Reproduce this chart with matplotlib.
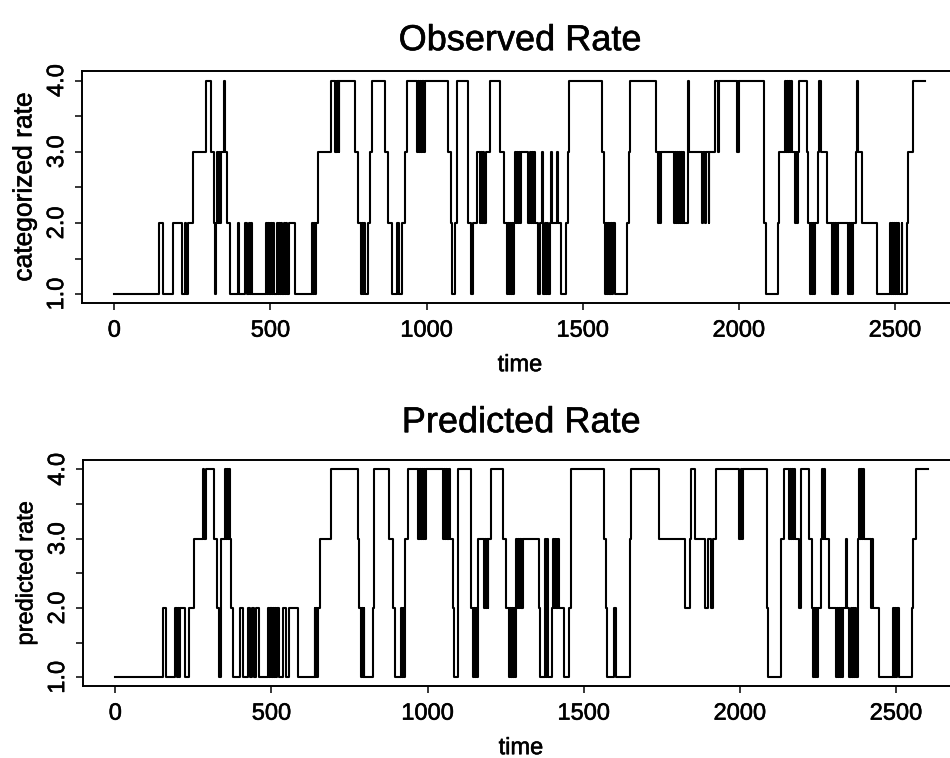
import matplotlib
matplotlib.use("Agg")
import matplotlib.pyplot as plt
import matplotlib.patheffects as pe
import numpy as np

# ---- data: change points (time at which a new level starts) ----
obs_times = [0, 144, 155, 189, 218, 226, 230, 235, 251, 293, 309, 319, 323, 327, 330, 333, 336, 339, 342, 350, 353, 362, 372,
             395, 398, 419, 424, 431, 434, 437, 440,
             485, 488, 491, 494, 497, 500, 503, 506, 509, 512,
             520, 523, 527, 531, 535, 538, 542, 546, 549, 552,
             561, 579,
             634, 637, 640, 643, 646, 651,
             694, 707, 709, 711, 713, 715, 717, 719, 721,
             771, 782, 790, 794, 797, 800, 803, 812, 818, 824,
             867, 878, 890, 904, 907, 910, 913, 921, 931, 937,
             969, 972, 975, 978, 981, 984, 987, 990, 993, 996,
             1070, 1078, 1083, 1092, 1097,
             1134, 1143, 1150, 1161, 1172, 1175, 1178, 1181, 1185, 1189, 1203,
             1235, 1247, 1257, 1261, 1264, 1267, 1270, 1274, 1278, 1281,
             1283, 1286, 1289, 1292, 1295, 1298, 1301,
             1326, 1330, 1334, 1338, 1342, 1345, 1348, 1356, 1364, 1369, 1372, 1374, 1378, 1381, 1385, 1389,
             1396, 1398, 1401, 1417, 1420, 1431, 1446, 1454, 1457,
             1563, 1567, 1570, 1574, 1577, 1580, 1583, 1586, 1589, 1592, 1595, 1598, 1602,
             1641, 1647, 1650,
             1734, 1741, 1744, 1747, 1750, 1794, 1797, 1800, 1803, 1806, 1809, 1812, 1815, 1818, 1821, 1823,
             1838, 1842, 1881, 1884, 1892, 1895, 1903, 1906, 1924, 1934, 1937,
             1994, 1997, 1999, 2001,
             2082, 2088, 2127, 2130, 2148, 2151, 2154, 2157, 2160, 2163, 2166, 2169, 2180, 2183, 2186, 2189,
             2193, 2218, 2223, 2228, 2231, 2234, 2237, 2240, 2244, 2254, 2257, 2262, 2282,
             2298, 2301, 2304, 2307, 2310, 2313, 2316, 2319, 2351, 2354, 2357, 2360, 2363, 2366,
             2376, 2380, 2383, 2394, 2442, 2485, 2488, 2491, 2494, 2497, 2500, 2503, 2506,
             2511, 2513, 2522, 2524, 2538, 2541, 2559]
obs_levels = [1, 2, 1, 2, 1, 2, 1, 2, 3, 4, 3, 2, 1, 2, 3, 2, 3, 2, 3, 4, 3, 2, 1,
              2, 1, 2, 1, 2, 1, 2, 1,
              2, 1, 2, 1, 2, 1, 2, 1, 2, 1,
              2, 1, 2, 1, 2, 1, 2, 1, 2, 1,
              2, 1,
              2, 1, 2, 1, 2, 3,
              4, 3, 4, 3, 4, 3, 4, 3, 4,
              3, 2, 1, 2, 1, 2, 1, 2, 3, 4,
              3, 2, 1, 2, 1, 2, 1, 2, 3, 4,
              3, 4, 3, 4, 3, 4, 3, 4, 3, 4,
              3, 2, 1, 2, 4,
              2, 1, 2, 3, 2, 3, 2, 3, 2, 3, 4,
              3, 2, 1, 2, 1, 2, 1, 2, 1, 2,
              3, 2, 3, 2, 3, 2, 3,
              2, 3, 2, 3, 2, 3, 2, 1, 2, 3, 2, 1, 2, 1, 2, 1,
              2, 3, 2, 3, 2, 1, 2, 3, 4,
              3, 2, 1, 2, 1, 2, 1, 2, 1, 2, 1, 2, 1,
              2, 3, 4,
              3, 2, 3, 2, 3, 2, 3, 2, 3, 2, 3, 2, 3, 2, 3, 2,
              4, 3, 2, 3, 2, 3, 2, 3, 4, 3, 4,
              3, 4, 3, 4,
              2, 1, 2, 3, 4, 3, 4, 3, 4, 3, 4, 3, 2, 3, 2, 3,
              4, 3, 2, 1, 2, 1, 2, 1, 2, 3, 4, 3, 2,
              1, 2, 1, 2, 1, 2, 1, 2, 1, 2, 1, 2, 1, 2,
              3, 4, 3, 2, 1, 2, 1, 2, 1, 2, 1, 2, 1,
              2, 1, 2, 1, 2, 3, 4]
obs_end = 2597

pred_times = [0, 152, 162, 192, 198, 201, 204, 207, 224, 237, 251, 282, 285, 291, 317, 325, 333, 339,
              352, 355, 358, 361, 364, 367, 371, 376,
              399, 408, 424, 431, 438, 445, 451, 461,
              488, 491, 494, 497, 500, 503, 506, 509, 512, 515, 518, 523,
              536, 547, 557, 584,
              638, 641, 643, 646, 649, 654, 691,
              776, 782, 786, 789, 792, 795, 798, 824, 828,
              876, 890, 897, 916, 919, 922, 925, 929, 937,
              968, 971, 974, 977, 980, 983, 986, 989, 992, 996,
              1049, 1052, 1055, 1058, 1061, 1064, 1067, 1070, 1072, 1081, 1086, 1097,
              1139, 1145, 1148, 1151, 1154, 1157, 1161, 1180, 1183, 1186, 1189, 1192, 1195, 1203,
              1241, 1250, 1262, 1265, 1268, 1271, 1274, 1277, 1280, 1283,
              1286, 1289, 1292, 1295, 1298, 1301, 1304, 1307,
              1356, 1361, 1377, 1380, 1382, 1385, 1399,
              1401, 1404, 1407, 1410, 1413, 1416, 1419, 1422, 1438, 1454, 1460,
              1566, 1571, 1576, 1598, 1604,
              1647, 1652, 1741, 1823, 1839, 1844, 1855, 1887, 1898, 1908, 1913, 1924,
              1999, 2003, 2006, 2010,
              2087, 2090, 2132, 2143, 2159, 2162, 2165, 2168, 2171, 2174, 2177, 2189, 2196, 2223,
              2231, 2234, 2237, 2240, 2243, 2246, 2250, 2260, 2264, 2267, 2270, 2274, 2287,
              2308, 2311, 2314, 2317, 2320, 2323, 2326, 2330, 2341, 2343, 2351,
              2356, 2359, 2362, 2365, 2368, 2371, 2378, 2383, 2386, 2389, 2392, 2395, 2399,
              2421, 2424, 2428, 2447, 2490, 2493, 2497, 2500, 2505, 2511, 2552, 2554, 2565]
pred_levels = [1, 2, 1, 2, 1, 2, 1, 2, 1, 2, 3, 4, 3, 4, 3, 2, 1, 3,
               4, 3, 4, 3, 4, 3, 2, 1,
               2, 1, 2, 1, 2, 1, 2, 1,
               2, 1, 2, 1, 2, 1, 2, 1, 2, 1, 2, 1,
               2, 1, 2, 1,
               2, 1, 2, 1, 2, 3, 4,
               3, 2, 1, 2, 1, 2, 1, 2, 4,
               3, 2, 1, 2, 1, 2, 1, 3, 4,
               3, 4, 3, 4, 3, 4, 3, 4, 3, 4,
               3, 4, 3, 4, 3, 4, 3, 4, 3, 2, 1, 4,
               2, 1, 2, 1, 2, 1, 3, 2, 3, 2, 3, 2, 3, 4,
               3, 2, 1, 2, 1, 2, 1, 2, 1, 3,
               2, 3, 2, 3, 2, 3, 2, 3,
               2, 1, 3, 1, 3, 1, 2,
               3, 2, 3, 2, 3, 2, 3, 2, 1, 2, 4,
               3, 2, 1, 2, 1,
               3, 4, 3, 2, 3, 4, 3, 2, 3, 2, 3, 4,
               3, 4, 3, 4,
               2, 1, 3, 4, 3, 4, 3, 4, 3, 4, 3, 2, 4, 3,
               2, 1, 2, 1, 2, 1, 2, 3, 4, 3, 4, 3, 2,
               1, 2, 1, 2, 1, 2, 1, 2, 3, 2, 1,
               2, 1, 2, 1, 2, 1, 3, 4, 3, 4, 3, 4, 3,
               2, 3, 2, 1, 2, 1, 2, 1, 2, 1, 2, 3, 4]
pred_end = 2602

x_ticks = [0, 500, 1000, 1500, 2000, 2500]
y_ticks = [1.0, 2.0, 3.0, 4.0]
y_minor = [1.5, 2.5, 3.5]

titles = ["Observed Rate", "Predicted Rate"]
ylabels = ["categorized rate", "predicted rate"]

plt.rcParams['font.family'] = ['Liberation Sans', 'DejaVu Sans']

W, H = 950, 758
fig = plt.figure(figsize=(W / 100, H / 100), dpi=100)

def px_axes(left, top, right, bottom):
    return [left / W, 1 - bottom / H, (right - left) / W, (bottom - top) / H]

ax1 = fig.add_axes(px_axes(82, 71, 958, 303))
ax2 = fig.add_axes(px_axes(83, 460, 959, 686))

series = [(obs_times, obs_levels, obs_end), (pred_times, pred_levels, pred_end)]
title_pads = [15, 20]
ylabel_sizes = [19, 17]
ink = [pe.withStroke(linewidth=0.4, foreground='black')]

for ax, (tt, vv, tend), title, ylab, tpad, ysz in zip([ax1, ax2], series, titles, ylabels,
                                                      title_pads, ylabel_sizes):
    t = np.array(list(tt) + [tend], dtype=float)
    v = np.array(list(vv) + [vv[-1]], dtype=float)
    ax.step(t, v, where='post', color='black', lw=1.5)
    ax.set_xlim(-103.5, 2702)
    ax.set_ylim(0.875, 4.135)
    ax.set_xticks(x_ticks)
    ax.set_xticklabels([str(x) for x in x_ticks], fontsize=17)
    ax.set_yticks(y_ticks)
    ax.set_yticklabels(["%.1f" % y for y in y_ticks], fontsize=17, rotation=90, va='center')
    ax.set_yticks(y_minor, minor=True)
    ax.tick_params(axis='both', which='both', direction='out', length=5, width=1.1, color='black')
    ax.tick_params(axis='x', pad=7)
    ax.tick_params(axis='y', pad=5)
    for s in ['left', 'top', 'bottom']:
        ax.spines[s].set_linewidth(1.4)
    ax.spines['right'].set_visible(False)
    ax.set_title(title, fontsize=26, pad=tpad, path_effects=ink)
    ax.set_xlabel("time", fontsize=17, labelpad=9, path_effects=ink)
    ax.set_ylabel(ylab, fontsize=ysz, labelpad=7, path_effects=ink)
    for lab in ax.get_xticklabels() + ax.get_yticklabels():
        lab.set_path_effects(ink)

fig.savefig("out.png", dpi=100)
